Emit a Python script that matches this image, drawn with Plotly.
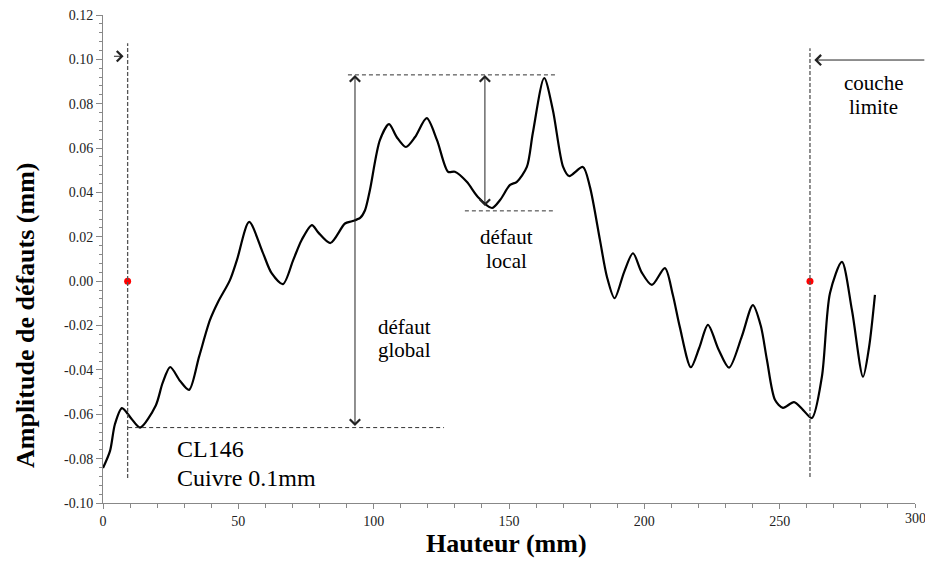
import plotly.graph_objects as go

# Curve data (Hauteur mm, Amplitude mm)
hauteur = [0, 2.6, 4.4, 7.0, 10.5, 13.7, 19.5, 22.0, 24.8, 28.5, 31.8, 35.5, 39.5, 42.5,
           46.9, 49.5, 54.0, 59.0, 62.3, 66.5, 70.3, 73.4, 77.2, 79.5, 84.0, 89.4, 92.0,
           95.0, 96.8, 98.6, 102.3, 105.7, 108.5, 111.9, 115.3, 119.6, 123.4, 127.5, 130.0,
           134.4, 138.5, 143.7, 146.7, 150.4, 152.9, 156.6, 158.8, 163.0, 166.2, 170.0,
           172.2, 177.3, 179.9, 183.6, 186.2, 189.0, 192.5, 195.8, 199.0, 202.8, 207.6,
           210.5, 213.1, 217.2, 220.3, 223.5, 227.5, 231.3, 236.0, 240.1, 243.0, 245.3,
           248.3, 251.2, 255.3, 258.6, 261.9, 265.6, 268.6, 273.0, 276.7, 280.8, 283.0, 285.2]
amplitude = [-0.0842, -0.0765, -0.0645, -0.0572, -0.062, -0.066, -0.056, -0.046, -0.0387, -0.045,
             -0.049, -0.034, -0.0176, -0.0094, 0.0005, 0.0096, 0.0267, 0.013, 0.0036, -0.0013,
             0.0096, 0.0186, 0.0253, 0.022, 0.0172, 0.026, 0.027, 0.0285, 0.032, 0.041, 0.0636,
             0.0708, 0.065, 0.0605, 0.065, 0.0735, 0.0636, 0.0493, 0.0493, 0.0448, 0.038, 0.033,
             0.0366, 0.0434, 0.0448, 0.0515, 0.0668, 0.0916, 0.0772, 0.0515, 0.0474, 0.0515,
             0.0425, 0.0186, 0.0019, -0.0077, 0.004, 0.0126, 0.004, -0.0017, 0.0059, -0.006,
             -0.0206, -0.0388, -0.030, -0.0197, -0.031, -0.039, -0.025, -0.0108, -0.020, -0.0355,
             -0.0536, -0.0571, -0.0545, -0.058, -0.0617, -0.0431, -0.0053, 0.0087, -0.013,
             -0.0431, -0.030, -0.0062]

# Boundary-layer markers
limite_x = [9.1, 261.2]
limite_y = [0.0, 0.0]

# Defect levels
global_haut = 0.093
global_bas = -0.066
local_bas = 0.0317

xtick_vals = [0, 50, 100, 150, 200, 250, 300]
xtick_text = ["0", "50", "100", "150", "200", "250", "300"]
ytick_vals = [-0.10, -0.08, -0.06, -0.04, -0.02, 0.00, 0.02, 0.04, 0.06, 0.08, 0.10, 0.12]
ytick_text = ["-0.10", "-0.08", "-0.06", "-0.04", "-0.02", "0.00", "0.02", "0.04", "0.06",
              "0.08", "0.10", "0.12"]

SERIF = "Liberation Serif"

fig = go.Figure()
fig.add_trace(go.Scatter(x=hauteur, y=amplitude, mode="lines",
                         line=dict(color="black", width=2.2, shape="spline", smoothing=0.8),
                         hoverinfo="skip", showlegend=False))
fig.add_trace(go.Scatter(x=limite_x, y=limite_y, mode="markers",
                         marker=dict(color="#ff0000", size=7), showlegend=False))

VDASH = "4px,2px"
HDASH = "4px,3px"
shapes = []
shapes.append(dict(type="line", xref="x", yref="y", x0=limite_x[0], x1=limite_x[0],
                   y0=-0.0887, y1=0.1073, line=dict(color="#555", width=1.3, dash=VDASH)))
shapes.append(dict(type="line", xref="x", yref="y", x0=limite_x[1], x1=limite_x[1],
                   y0=-0.0883, y1=0.105, line=dict(color="#555", width=1.3, dash=VDASH)))
shapes.append(dict(type="line", xref="x", yref="y", x0=90.5, x1=167.3, y0=global_haut,
                   y1=global_haut, line=dict(color="#333", width=1, dash=HDASH)))
shapes.append(dict(type="line", xref="x", yref="y", x0=9.3, x1=126, y0=global_bas,
                   y1=global_bas, line=dict(color="#333", width=1, dash=HDASH)))
shapes.append(dict(type="line", xref="x", yref="y", x0=133.7, x1=166.2, y0=local_bas,
                   y1=local_bas, line=dict(color="#333", width=1, dash=HDASH)))

annotations = []


def arrow(x, y, ax, ay, both=False):
    annotations.append(dict(x=x, y=y, ax=ax, ay=ay, xref="x", yref="y", axref="x", ayref="y",
                            text="", showarrow=True, arrowhead=4, startarrowhead=4,
                            arrowside="end+start" if both else "end",
                            arrowsize=2, startarrowsize=2, arrowwidth=1, arrowcolor="#222"))


arrow(93.1, global_haut, 93.1, global_bas, both=True)
arrow(141.1, global_haut, 141.1, local_bas + 0.0015, both=True)
arrow(7.6, 0.1014, 3.5, 0.1014)
arrow(262.8, 0.0997, 304, 0.0997)


def label(x, y, txt, size, anchor="center"):
    annotations.append(dict(x=x, y=y, xref="x", yref="y", text=txt, showarrow=False,
                            xanchor=anchor, yanchor="middle",
                            font=dict(family=SERIF, size=size, color="black")))


label(149.2, (281.2 - 237) / 2218, "défaut", 21)
label(149.2, (281.2 - 261) / 2218, "local", 21)
label(101.0, (281.2 - 327) / 2218, "défaut", 21, "left")
label(101.0, (281.2 - 350) / 2218, "global", 21, "left")
label(284.5, (281.2 - 83) / 2218, "couche", 21)
label(284.5, (281.2 - 107) / 2218, "limite", 21)
label(26.5, (281.2 - 449) / 2218, "CL146", 24, "left")
label(26.5, (281.2 - 478) / 2218, "Cuivre 0.1mm", 24, "left")

pl, pr, pt, pb = 103, 10, 15, 59
pw, ph = 925 - pl - pr, 562 - pt - pb

# last x tick label (overflows the right edge in the reference)
annotations.append(dict(x=xtick_vals[-1], y=(562 - 518 - pb) / ph, xref="x", yref="paper",
                        text=xtick_text[-1], showarrow=False, xanchor="center", yanchor="middle",
                        font=dict(family=SERIF, size=14, color="#222")))

# axis titles as paper annotations (positions given in page pixels, converted)
annotations.append(dict(x=(506 - pl) / pw, y=(562 - 543 - pb) / ph, xref="paper", yref="paper",
                        text="<b>Hauteur (mm)</b>",
                        showarrow=False, xanchor="center", yanchor="middle",
                        font=dict(family=SERIF, size=26, color="black")))
annotations.append(dict(x=(25 - pl) / pw, y=(562 - 315 - pb) / ph, xref="paper", yref="paper",
                        text="<b>Amplitude de défauts (mm)</b>", textangle=-90,
                        showarrow=False, xanchor="center", yanchor="middle",
                        font=dict(family=SERIF, size=26, color="black")))

fig.update_layout(
    width=925, height=562,
    margin=dict(l=pl, r=pr, t=pt, b=pb, autoexpand=False),
    paper_bgcolor="white", plot_bgcolor="white",
    shapes=shapes, annotations=annotations,
    font=dict(family=SERIF, color="#222"),
    xaxis=dict(range=[0, 300], tickvals=xtick_vals[:-1], ticktext=xtick_text[:-1], automargin=False,
               showgrid=False, zeroline=False, showline=True, linecolor="#888", linewidth=1,
               ticks="outside", ticklen=5, tickcolor="#888",
               minor=dict(dtick=10, ticks="outside", ticklen=4, tickcolor="#888"),
               tickfont=dict(family=SERIF, size=14, color="#222")),
    yaxis=dict(range=[-0.10, 0.12], tickvals=ytick_vals, ticktext=ytick_text, automargin=False,
               showgrid=False, zeroline=False, showline=True, linecolor="#888", linewidth=1,
               ticks="outside", ticklen=6, tickcolor="#888",
               minor=dict(dtick=0.004, tick0=0, ticks="outside", ticklen=3, tickcolor="#888"),
               tickfont=dict(family=SERIF, size=14, color="#222")),
)

fig.write_html("out.html", config={"displayModeBar": False},
               post_script="document.body.style.margin='0';")
